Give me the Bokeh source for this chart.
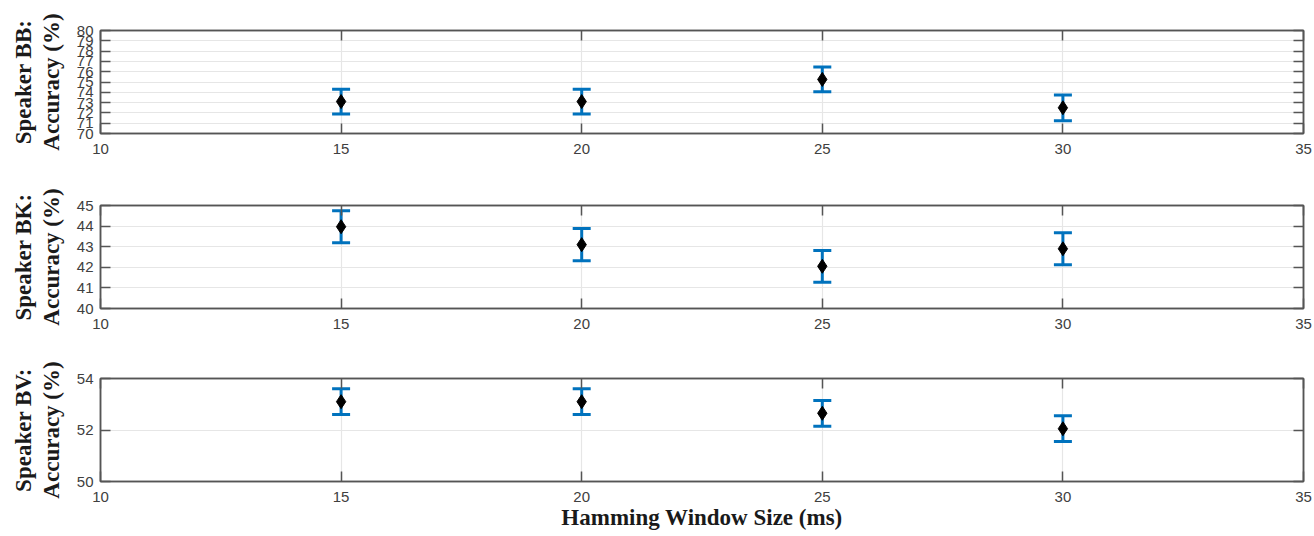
from bokeh.plotting import figure
from bokeh.models import (ColumnDataSource, Whisker, TeeHead, LinearAxis, FixedTicker,
                          Range1d, CustomLabelingPolicy)
from bokeh.layouts import column
from bokeh.embed import file_html
from bokeh.resources import INLINE

# ---- data ----
window_ms = [15, 20, 25, 30]
bb_acc = [73.1, 73.1, 75.25, 72.5]
bb_err = [1.2, 1.2, 1.2, 1.25]
bk_acc = [43.97, 43.1, 42.05, 42.9]
bk_err = [0.78, 0.78, 0.77, 0.78]
bv_acc = [53.1, 53.1, 52.65, 52.05]
bv_err = [0.5, 0.5, 0.5, 0.5]

x_ticks = [10, 15, 20, 25, 30, 35]
bb_ticks = [70, 71, 72, 73, 74, 75, 76, 77, 78, 79, 80]
bk_ticks = [40, 41, 42, 43, 44, 45]
bv_ticks = [50, 52, 54]

speakers = ["Speaker BB:", "Speaker BK:", "Speaker BV:"]
x_title = "Hamming Window Size (ms)"

FRAME_COLOR = "#555555"
TICK_FONT = "Liberation Sans"
TITLE_FONT = "Liberation Serif"
BLUE = "#0072BD"

NO_LABELS = CustomLabelingPolicy(code="""
for (const i of indices) { indices.unset(i) }
return indices
""")


def style_axis(ax, show_labels=True):
    ax.axis_line_color = FRAME_COLOR
    ax.axis_line_width = 1.5
    ax.major_tick_line_color = FRAME_COLOR
    ax.major_tick_line_width = 1.5
    ax.major_tick_in = 10
    ax.major_tick_out = 0
    ax.minor_tick_line_color = None
    ax.major_label_text_font = TICK_FONT
    ax.major_label_text_color = "#404040"
    ax.major_label_text_font_size = "15px"
    ax.axis_label_text_font = TITLE_FONT
    ax.axis_label_text_font_style = "bold"
    ax.axis_label_text_font_size = "23px"
    ax.axis_label_text_line_height = 1.1
    ax.axis_label_text_color = "#1a1a1a"
    if not show_labels:
        ax.major_label_policy = NO_LABELS
        ax.major_label_standoff = 0


def make_panel(speaker, acc, err, yticks, top, bottom, xlabel=None):
    p = figure(frame_width=1203, frame_height=103,
               min_border_left=100, min_border_right=6,
               min_border_top=top, min_border_bottom=bottom,
               x_range=Range1d(x_ticks[0], x_ticks[-1]),
               y_range=Range1d(yticks[0], yticks[-1]),
               output_backend="svg", toolbar_location=None)
    p.outline_line_color = FRAME_COLOR
    p.outline_line_width = 1.5
    p.background_fill_color = "white"
    p.border_fill_color = "white"

    p.xaxis.ticker = FixedTicker(ticks=x_ticks)
    p.yaxis.ticker = FixedTicker(ticks=yticks)
    style_axis(p.xaxis[0])
    style_axis(p.yaxis[0])
    p.xaxis.major_label_standoff = 10
    p.yaxis.major_label_standoff = 7
    p.yaxis.axis_label = speaker + "\nAccuracy (%)"
    p.yaxis.axis_label_standoff = 10
    if xlabel:
        p.xaxis.axis_label = xlabel
        p.xaxis.axis_label_standoff = 0

    top_ax = LinearAxis(ticker=FixedTicker(ticks=x_ticks))
    style_axis(top_ax, show_labels=False)
    p.add_layout(top_ax, "above")
    right_ax = LinearAxis(ticker=FixedTicker(ticks=yticks))
    style_axis(right_ax, show_labels=False)
    p.add_layout(right_ax, "right")

    p.xgrid.ticker = FixedTicker(ticks=x_ticks)
    p.ygrid.ticker = FixedTicker(ticks=yticks)
    p.grid.grid_line_color = "#e6e6e6"
    p.grid.grid_line_width = 1.2

    src = ColumnDataSource(dict(
        x=window_ms, y=acc,
        upper=[a + e for a, e in zip(acc, err)],
        lower=[a - e for a, e in zip(acc, err)]))
    wh = Whisker(source=src, base="x", upper="upper", lower="lower",
                 dimension="height", line_color=BLUE, line_width=3,
                 upper_head=TeeHead(size=18, line_color=BLUE, line_width=3),
                 lower_head=TeeHead(size=18, line_color=BLUE, line_width=3))
    p.add_layout(wh)
    p.scatter("x", "y", source=src, marker="diamond", size=14,
              fill_color="black", line_color="black")
    return p


p1 = make_panel(speakers[0], bb_acc, bb_err, bb_ticks, 30, 37)
p2 = make_panel(speakers[1], bk_acc, bk_err, bk_ticks, 35, 37)
p3 = make_panel(speakers[2], bv_acc, bv_err, bv_ticks, 33, 55, xlabel=x_title)

layout = column(p1, p2, p3, spacing=0)
open("out.html", "w").write(file_html(layout, INLINE))
